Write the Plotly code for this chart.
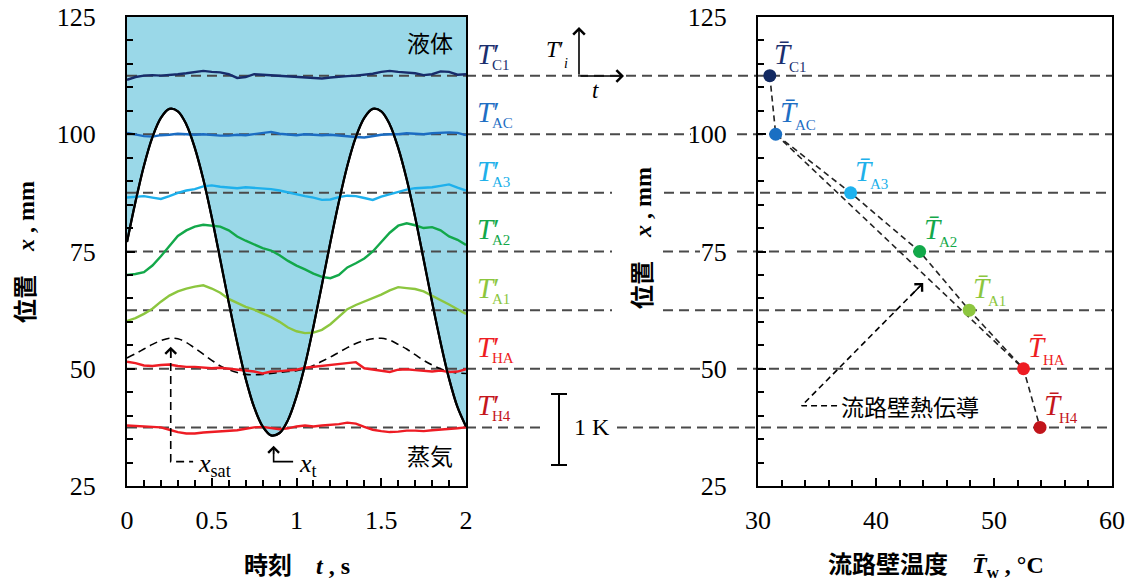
import plotly.graph_objects as go

# ---------------- data ----------------
time_s = [0.0, 0.05, 0.1, 0.15, 0.2, 0.25, 0.3, 0.35, 0.4, 0.45, 0.5, 0.55, 0.6, 0.65, 0.7,
          0.75, 0.8, 0.85, 0.9, 0.95, 1.0, 1.05, 1.1, 1.15, 1.2, 1.25, 1.3, 1.35, 1.4, 1.45,
          1.5, 1.55, 1.6, 1.65, 1.7, 1.75, 1.8, 1.85, 1.9, 1.95, 2.0]

# liquid/vapour interface position x_t (mm)
interface_x = [77.0, 85.6, 93.3, 99.4, 103.5, 105.4, 104.9, 102.1, 97.1, 90.4, 82.3, 73.3,
               64.2, 55.6, 47.9, 41.8, 37.7, 35.8, 36.3, 39.1, 44.1, 50.8, 59.0, 67.9, 77.0,
               85.6, 93.3, 99.4, 103.5, 105.4, 104.9, 102.1, 97.1, 90.4, 82.3, 73.3, 64.2,
               55.6, 47.9, 41.8, 37.7]

# saturation position x_sat (mm)
x_sat = [52.3, 53.2, 54.2, 55.2, 56.0, 56.5, 56.4, 55.6, 54.4, 53.1, 51.8, 50.6, 49.8, 49.2,
         48.8, 48.7, 48.8, 49.0, 49.2, 49.4, 49.6, 50.0, 50.7, 51.6, 52.5, 53.5, 54.5, 55.4,
         56.0, 56.4, 56.5, 56.1, 55.2, 54.2, 53.0, 51.8, 50.8, 50.0, 49.4, 49.1, 49.0]

# temperature fluctuation traces (drawn at sensor heights, mm-equivalent)
trace_C1 = [111.6, 112.2, 112.5, 112.6, 112.5, 112.6, 112.8, 113.0, 113.2, 113.5, 113.3, 113.2,
            112.8, 112.0, 112.2, 112.8, 112.7, 112.6, 112.5, 112.3, 112.3, 112.2, 112.0, 111.9,
            112.1, 112.3, 112.4, 112.5, 112.7, 112.9, 113.3, 113.5, 113.3, 113.2, 113.0, 112.6,
            112.8, 113.4, 113.3, 112.7, 112.8]
trace_AC = [100.3, 100.0, 99.6, 99.5, 99.8, 99.9, 100.1, 100.0, 99.9, 100.0, 99.8, 99.7, 99.7,
            99.9, 99.8, 100.0, 100.3, 100.5, 100.1, 100.0, 99.8, 100.0, 99.9, 99.8, 99.9, 99.7,
            99.5, 99.4, 99.3, 99.6, 99.9, 100.0, 100.0, 100.2, 100.1, 100.0, 100.2, 100.3,
            100.4, 100.3, 99.8]
trace_A3 = [86.5, 86.6, 86.8, 86.5, 86.2, 86.8, 87.5, 88.0, 88.3, 88.9, 89.1, 88.8, 88.6, 88.5,
            88.7, 88.6, 88.4, 88.3, 88.0, 87.6, 87.1, 86.8, 86.5, 86.0, 86.1, 86.6, 86.9, 86.8,
            86.4, 86.0, 86.7, 87.2, 87.8, 88.2, 88.5, 88.6, 88.7, 89.0, 89.3, 88.6, 88.0]
trace_A2 = [70.0, 70.2, 70.6, 72.0, 74.0, 76.2, 78.3, 79.5, 80.3, 80.7, 80.5, 80.3, 79.5, 78.2,
            77.3, 76.5, 75.7, 75.2, 74.2, 73.0, 72.0, 71.2, 70.3, 69.6, 69.3, 70.0, 71.6, 72.5,
            73.5, 75.0, 77.0, 79.0, 80.5, 81.0, 80.6, 80.0, 80.2, 79.5, 78.2, 77.5, 76.4]
trace_A1 = [60.2, 60.8, 61.7, 62.8, 64.3, 65.6, 66.5, 67.1, 67.5, 67.8, 67.1, 66.2, 64.9, 64.0,
            63.2, 62.6, 61.8, 61.0, 60.0, 58.8, 58.0, 57.6, 57.7, 58.3, 59.5, 61.2, 62.7, 63.6,
            64.3, 65.0, 65.8, 66.7, 67.4, 67.2, 67.0, 66.5, 65.6, 64.6, 63.7, 62.7, 61.7]
trace_HA = [51.5, 51.2, 50.7, 50.6, 50.8, 50.9, 50.6, 50.4, 50.4, 50.3, 50.1, 50.2, 50.0, 49.7,
            49.6, 49.4, 49.0, 49.4, 49.5, 49.7, 49.8, 50.2, 50.4, 50.6, 50.9, 51.1, 51.3, 51.4,
            50.1, 49.8, 49.5, 49.3, 49.8, 49.9, 49.7, 49.6, 49.4, 49.6, 49.3, 49.4, 49.9]
trace_H4 = [37.9, 37.8, 37.7, 37.6, 37.5, 37.0, 36.5, 36.2, 36.2, 36.4, 36.5, 36.6, 36.7, 36.9,
            37.2, 37.5, 37.6, 37.3, 37.1, 37.3, 37.7, 37.9, 37.7, 37.9, 38.0, 38.2, 38.5, 38.3,
            37.6, 37.0, 36.7, 36.5, 36.6, 36.8, 36.8, 36.7, 36.9, 37.0, 37.1, 37.3, 37.5]

sensor_ids = ["C1", "AC", "A3", "A2", "A1", "HA", "H4"]
sensor_pos = [112.5, 100.0, 87.5, 75.0, 62.5, 50.0, 37.5]
wall_temp = [31.0, 31.5, 37.85, 43.7, 47.9, 52.5, 53.9]
traces = [trace_C1, trace_AC, trace_A3, trace_A2, trace_A1, trace_HA, trace_H4]

line_colors = ["#172c6b", "#1b6cc2", "#1eb0ec", "#13a84a", "#8cc63f", "#ee1c24", "#ee1c24"]
label_colors = ["#1b2f6e", "#1f6fc4", "#20b0ea", "#14a84a", "#8cc63e", "#ee1d23", "#c4161c"]
marker_colors = ["#132a62", "#1a6fc3", "#1eb2ef", "#12a94a", "#8dc63f", "#ee1c23", "#c1151b"]

# conduction guide line (AC -> HA) and annotation path
cond_line_T = [31.5, 52.5]
cond_line_x = [100.0, 50.0]
cond_arrow_T = [36.7, 33.7, 44.0]
cond_arrow_x = [42.1, 42.1, 68.3]

xsat_path_t = [0.258, 0.258, 0.39]
xsat_path_x = [54.0, 30.2, 30.2]
xt_path_t = [0.865, 0.865, 0.98]
xt_path_x = [33.0, 30.2, 30.2]

# ---------------- layout helpers ----------------
W, H = 1137, 583
SERIF = "Liberation Serif"
CJK = "Noto Sans CJK JP"
FILL = "#9ad8e8"
DASH_GREY = "#4a4a4a"


def pxx(p):
    return p / W


def pxy(p):
    return 1 - p / H


def sf(txt):
    return f'<span style="font-family:{SERIF}">{txt}</span>'


fig = go.Figure()

# blue liquid region above interface
fig.add_trace(go.Scatter(x=[0, 2], y=[125, 125], mode="lines", line=dict(width=0),
                         xaxis="x", yaxis="y", hoverinfo="skip", showlegend=False))
fig.add_trace(go.Scatter(x=time_s, y=interface_x, mode="lines",
                         line=dict(color="black", width=2.2, shape="spline"),
                         fill="tonexty", fillcolor=FILL,
                         xaxis="x", yaxis="y", hoverinfo="skip", showlegend=False))

# sensor-height dashed lines inside left panel
for v in sensor_pos:
    fig.add_trace(go.Scatter(x=[0, 2], y=[v, v], mode="lines",
                             line=dict(color=DASH_GREY, width=2, dash="10px,6px"),
                             xaxis="x", yaxis="y", hoverinfo="skip", showlegend=False))

# x_sat dashed curve
fig.add_trace(go.Scatter(x=time_s, y=x_sat, mode="lines",
                         line=dict(color="black", width=1.6, dash="8px,5px", shape="spline"),
                         xaxis="x", yaxis="y", hoverinfo="skip", showlegend=False))

# temperature traces
for tr, c in zip(traces, line_colors):
    fig.add_trace(go.Scatter(x=time_s, y=tr, mode="lines", line=dict(color=c, width=2.4),
                             xaxis="x", yaxis="y", hoverinfo="skip", showlegend=False))

# redraw interface curve on top (line only)
fig.add_trace(go.Scatter(x=time_s, y=interface_x, mode="lines",
                         line=dict(color="black", width=2.2, shape="spline"),
                         xaxis="x", yaxis="y", hoverinfo="skip", showlegend=False))

# pointer paths
fig.add_trace(go.Scatter(x=xsat_path_t, y=xsat_path_x, mode="lines",
                         line=dict(color="black", width=1.6, dash="8px,5px"),
                         xaxis="x", yaxis="y", hoverinfo="skip", showlegend=False))
fig.add_trace(go.Scatter(x=xt_path_t, y=xt_path_x, mode="lines",
                         line=dict(color="black", width=1.6),
                         xaxis="x", yaxis="y", hoverinfo="skip", showlegend=False))

# right panel: connecting dashed lines
fig.add_trace(go.Scatter(x=wall_temp, y=sensor_pos, mode="lines",
                         line=dict(color="#222222", width=1.6, dash="6px,4px"),
                         xaxis="x2", yaxis="y2", hoverinfo="skip", showlegend=False))
fig.add_trace(go.Scatter(x=cond_line_T, y=cond_line_x, mode="lines",
                         line=dict(color="#222222", width=1.6, dash="6px,4px"),
                         xaxis="x2", yaxis="y2", hoverinfo="skip", showlegend=False))
fig.add_trace(go.Scatter(x=cond_arrow_T, y=cond_arrow_x, mode="lines",
                         line=dict(color="black", width=1.6, dash="6px,4px"),
                         xaxis="x2", yaxis="y2", hoverinfo="skip", showlegend=False))
fig.add_trace(go.Scatter(x=wall_temp, y=sensor_pos, mode="markers",
                         marker=dict(color=marker_colors, size=13),
                         xaxis="x2", yaxis="y2", hoverinfo="skip", showlegend=False))

# ---------------- shapes: dashed lines crossing the gap / right panel ----------------
seg_gaps = {
    112.5: [],
    100.0: [(691, 737)],
    87.5: [(612, 664)],
    75.0: [(612, 663), (700, 737)],
    62.5: [(612, 663)],
    50.0: [(703, 737)],
    37.5: [(543, 617)],
}
shapes = []
for v in sensor_pos:
    start = 466
    for g0, g1 in seg_gaps[v] + [(1112, 1112)]:
        shapes.append(dict(type="line", xref="paper", yref="y", x0=pxx(start), x1=pxx(g0),
                           y0=v, y1=v, layer="below",
                           line=dict(color=DASH_GREY, width=2, dash="10px,6px")))
        start = g1

# 1 K scale bar
bar_x, bar_top, bar_bot = 559, 394, 465
shapes.append(dict(type="line", xref="paper", yref="paper", x0=pxx(bar_x), x1=pxx(bar_x),
                   y0=pxy(bar_top), y1=pxy(bar_bot), line=dict(color="black", width=2)))
for yy in (bar_top, bar_bot):
    shapes.append(dict(type="line", xref="paper", yref="paper", x0=pxx(bar_x - 8),
                       x1=pxx(bar_x + 8), y0=pxy(yy), y1=pxy(yy),
                       line=dict(color="black", width=2)))

# ---------------- annotations ----------------
ann = []


def add_text(text, x, y, xref="paper", yref="paper", size=24, family=SERIF, color="black",
             xanchor="center", yanchor="middle", xshift=0, yshift=0, angle=0):
    ann.append(dict(text=text, x=x, y=y, xref=xref, yref=yref, showarrow=False,
                    font=dict(family=family, size=size, color=color),
                    xanchor=xanchor, yanchor=yanchor, xshift=xshift, yshift=yshift,
                    textangle=angle))


# left-panel labels T'_i
for sid, v, c in zip(sensor_ids, sensor_pos, label_colors):
    add_text("<i>T</i>\u2032", pxx(475), v, yref="y", size=29, color=c,
             xanchor="left", yshift=22)
    add_text(sid, pxx(490), v, yref="y", size=15, color=c, xanchor="left", yshift=11)

# right-panel labels T-bar
for sid, tv, v, c in zip(sensor_ids, wall_temp, sensor_pos, label_colors):
    add_text("<i>T\u0304</i>", tv, v, xref="x2", yref="y2", size=29, color=c,
             xanchor="left", xshift=2, yshift=22)
    add_text(sid, tv, v, xref="x2", yref="y2", size=15, color=c,
             xanchor="left", xshift=17, yshift=9)

add_text("液体", 1.79, 119.7, xref="x", yref="y", family=CJK, size=23)
add_text("蒸気", 1.79, 31.6, xref="x", yref="y", family=CJK, size=23)
add_text("<i>x</i><sub>sat</sub>", 0.41, 30.2, xref="x", yref="y", size=26,
         xanchor="left", yshift=-3)
add_text("<i>x</i><sub>t</sub>", 1.0, 30.2, xref="x", yref="y", size=26,
         xanchor="left", yshift=-3)
add_text("1 K", pxx(572), 37.5, yref="y", size=24, xanchor="left")
add_text("流路壁熱伝導", 36.9, 42.1, xref="x2", yref="y2", family=CJK, size=23,
         xanchor="left")

# inset axes T'_i / t
add_text("<i>T</i>\u2032", pxx(555), pxy(50), size=23)
add_text("<i>i</i>", pxx(566), pxy(63), size=14)
add_text("<i>t</i>", pxx(595), pxy(90), size=23)
for hx, hy in ((579, 27), (624, 76)):
    ann.append(dict(x=pxx(hx), y=pxy(hy), xref="paper", yref="paper", text="",
                    showarrow=True, ax=579 - hx, ay=76 - hy, arrowhead=4, arrowsize=1.4,
                    arrowwidth=1.6, arrowcolor="black"))

# arrowheads for pointers
ann.append(dict(x=0.258, y=54.7, xref="x", yref="y", text="", showarrow=True,
                axref="x", ayref="y", ax=0.258, ay=52.0, arrowhead=4, arrowsize=1.4,
                arrowwidth=1.5, arrowcolor="black"))
ann.append(dict(x=0.865, y=33.6, xref="x", yref="y", text="", showarrow=True,
                axref="x", ayref="y", ax=0.865, ay=31.5, arrowhead=4, arrowsize=1.4,
                arrowwidth=1.5, arrowcolor="black"))
ann.append(dict(x=44.0, y=68.3, xref="x2", yref="y2", text="", showarrow=True,
                axref="x2", ayref="y2", ax=42.8, ay=65.2, arrowhead=4, arrowsize=1.4,
                arrowwidth=1.5, arrowcolor="black"))

# axis titles
add_text("<b>位置\u2003" + sf("<i>x</i> , mm") + "</b>", pxx(23), pxy(252),
         family=CJK, size=24, angle=-90)
add_text("<b>位置\u2003" + sf("<i>x</i> , mm") + "</b>", pxx(640), pxy(238),
         family=CJK, size=24, angle=-90)
add_text("<b>時刻\u2003" + sf("<i>t</i> , s") + "</b>", pxx(297), pxy(563),
         family=CJK, size=24)
add_text("<b>流路壁温度\u2003" + sf("<i>T\u0304</i><sub>w</sub> , °C") + "</b>",
         pxx(936), pxy(563), family=CJK, size=24)

# ---------------- axes ----------------
tickfont = dict(family=SERIF, size=26, color="black")
common = dict(showline=True, linecolor="black", linewidth=2, mirror=True, ticks="inside",
              tickcolor="black", tickwidth=1.5, ticklen=8, showgrid=False, zeroline=False,
              tickfont=tickfont, automargin=False)
ydom = [pxy(486), pxy(17)]

fig.update_layout(
    width=W, height=H, autosize=False,
    margin=dict(l=0, r=0, t=0, b=0, pad=0, autoexpand=False),
    paper_bgcolor="white", plot_bgcolor="rgba(0,0,0,0)",
    showlegend=False,
    xaxis=dict(domain=[pxx(127), pxx(466)], range=[0, 2], anchor="y",
               tickvals=[0, 0.5, 1, 1.5, 2], ticktext=["0", "0.5", "1", "1.5", "2"],
               minor=dict(dtick=0.1, ticks="inside", ticklen=6, tickcolor="black", tickwidth=1.5),
               ticklabelstandoff=10, **common),
    yaxis=dict(domain=ydom, range=[25, 125], anchor="x", tickvals=[25, 50, 75, 100, 125],
               minor=dict(dtick=5, ticks="inside", ticklen=6, tickcolor="black", tickwidth=1.5),
               ticklabelstandoff=24, **common),
    xaxis2=dict(domain=[pxx(758), pxx(1112)], range=[30, 60], anchor="y2",
                tickvals=[30, 40, 50, 60],
                minor=dict(dtick=2, ticks="inside", ticklen=6, tickcolor="black", tickwidth=1.5),
                ticklabelstandoff=10, **common),
    yaxis2=dict(domain=ydom, range=[25, 125], anchor="x2", tickvals=[25, 50, 75, 100, 125],
                minor=dict(dtick=5, ticks="inside", ticklen=6, tickcolor="black", tickwidth=1.5),
                ticklabelstandoff=24, **common),
    shapes=shapes,
    annotations=ann,
)

fig.write_html("out.html")
